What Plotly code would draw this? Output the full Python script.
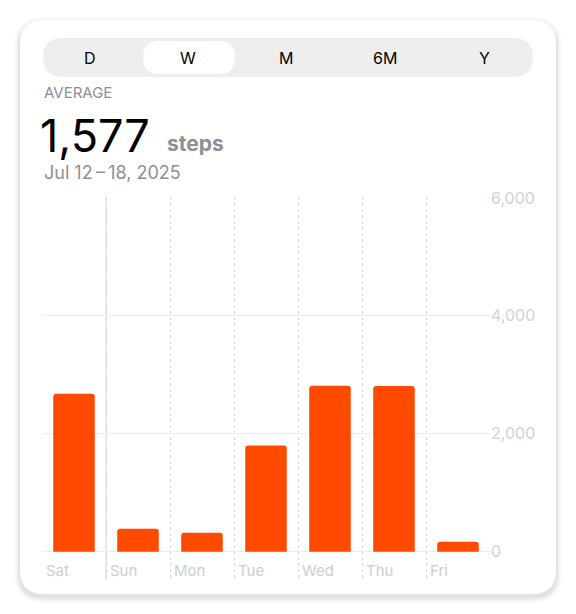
import plotly.graph_objects as go

days = ["Sat", "Sun", "Mon", "Tue", "Wed", "Thu", "Fri"]
steps = [2680, 390, 320, 1800, 2815, 2810, 170]
y_ticks = [0, 2000, 4000, 6000]
y_tick_labels = ["0", "2,000", "4,000", "6,000"]
tabs = ["D", "W", "M", "6M", "Y"]
tab_px = [90, 188, 286, 385, 484]

W, H = 576, 614
OFF = 8  # page body offset
L, R, T, B = 42, 490, 197, 580

def px(x): return (x - L) / (R - L)
def py(y): return (B - y) / (B - T)

def rrect(x0, y0, x1, y1, r):
    X0, X1, Y0, Y1 = px(x0), px(x1), py(y0), py(y1)
    rx, ry = r / (R - L), r / (B - T)
    return (f"M{X0+rx},{Y0} L{X1-rx},{Y0} Q{X1},{Y0} {X1},{Y0-ry} "
            f"L{X1},{Y1+ry} Q{X1},{Y1} {X1-rx},{Y1} L{X0+rx},{Y1} "
            f"Q{X0},{Y1} {X0},{Y1+ry} L{X0},{Y0-ry} Q{X0},{Y0} {X0+rx},{Y0} Z")

shapes = []
for i, a in enumerate([0.02, 0.025, 0.03, 0.04]):
    d = 6 - i * 1.5
    shapes.append(dict(type="path", xref="paper", yref="paper", layer="below",
                       path=rrect(20 - d, 20 - d + 3, 556 + d, 594 + d + 3, 24 + d),
                       fillcolor=f"rgba(0,0,0,{a})", line_width=0))
shapes.append(dict(type="path", xref="paper", yref="paper", layer="below",
                   path=rrect(20, 20, 556, 594, 24), fillcolor="white", line_width=0))
shapes.append(dict(type="path", xref="paper", yref="paper", layer="below",
                   path=rrect(43, 38, 533, 77, 19.5), fillcolor="#eeeeef", line_width=0))
shapes.append(dict(type="path", xref="paper", yref="paper", layer="below",
                   path=rrect(143, 41, 235, 74, 16.5), fillcolor="white", line_width=0))
shapes.append(dict(type="line", xref="x", yref="paper", x0=1, x1=1, y0=0, y1=1,
                   line=dict(color="#dddddd", width=1.2), layer="below"))

def txt(t, x, y, size, color, xa="center"):
    return dict(text=t, x=px(x), y=py(y), xref="paper", yref="paper", xanchor=xa,
                yanchor="middle", showarrow=False,
                font=dict(size=size, color=color, family="Inter"))

ann = [txt(t, x, 58, 16, "black") for t, x in zip(tabs, tab_px)]
ann.append(txt("AVERAGE", 42, 93, 15, "#8e8e93", "left"))
ann.append(txt("1,577", 38, 135, 45, "black", "left"))
ann.append(txt("<b>steps</b>", 165, 143, 21, "#8e8e93", "left"))
ann.append(txt("Jul 12\u2009\u2013\u200918, 2025", 42, 173, 18, "#8e8e93", "left"))
for i, d in enumerate(days):
    ann.append(dict(text=d, x=i, y=-320, xref="x", yref="y", xanchor="left", yanchor="middle",
                    xshift=2, showarrow=False,
                    font=dict(size=15, color="#cdcdd2", family="Inter")))

fig = go.Figure(go.Bar(x=[i + 0.5 for i in range(len(days))], y=steps, width=0.65,
                       marker=dict(color="#ff4a00", cornerradius=3, line_width=0)))
fig.update_layout(
    width=W, height=H, margin=dict(l=L - OFF, r=W - R + OFF, t=T - OFF, b=H - B + OFF),
    paper_bgcolor="white", plot_bgcolor="rgba(0,0,0,0)", showlegend=False,
    shapes=shapes, annotations=ann,
    xaxis=dict(range=[0, 7], tickvals=list(range(8)), showticklabels=False, showgrid=True,
               gridcolor="#dcdcdc", griddash="dot", gridwidth=1, zeroline=False, showline=False),
    yaxis=dict(range=[-480, 6016], side="right", tickvals=y_ticks, ticktext=y_tick_labels,
               showgrid=True, gridcolor="#ececec", zeroline=False, ticks="",
               tickfont=dict(size=16, color="#d1d1d6", family="Inter")),
)
fig.write_html("out.html")
